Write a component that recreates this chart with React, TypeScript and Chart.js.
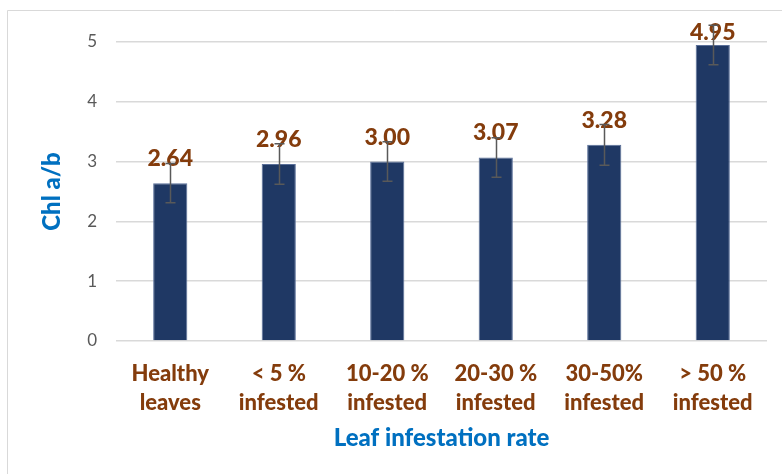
import React, { useEffect, useRef } from "react";
import { Chart, registerables } from "chart.js";

Chart.register(...registerables);

const categories: string[][] = [
  ["Healthy", "leaves"],
  ["< 5 %", "infested"],
  ["10-20 %", "infested"],
  ["20-30 %", "infested"],
  ["30-50%", "infested"],
  ["> 50 %", "infested"],
];
const chlValues: number[] = [2.64, 2.96, 3.0, 3.07, 3.28, 4.95];
const chlErrors: number[] = [0.33, 0.34, 0.33, 0.33, 0.34, 0.33];
const yTicks: number[] = [0, 1, 2, 3, 4, 5];

const FONT = "Lato, 'Open Sans', sans-serif";
const BROWN = "#843C0C";
const BLUE = "#0070C0";

const frame = {
  id: "frame",
  beforeDraw(chart: any) {
    const ctx = chart.ctx;
    ctx.save();
    ctx.fillStyle = "#ffffff";
    ctx.fillRect(0, 0, chart.width, chart.height);
    ctx.strokeStyle = "#d9d9d9";
    ctx.lineWidth = 1;
    ctx.beginPath();
    ctx.moveTo(7.5, chart.height);
    ctx.lineTo(7.5, 10.5);
    ctx.lineTo(chart.width, 10.5);
    ctx.stroke();
    ctx.restore();
  },
};

const errorsAndLabels = {
  id: "errorsAndLabels",
  afterDatasetsDraw(chart: any) {
    const ctx = chart.ctx;
    const meta = chart.getDatasetMeta(0);
    const y = chart.scales.y;
    ctx.save();
    // data labels
    ctx.fillStyle = BROWN;
    ctx.font = `900 23px ${FONT}`;
    ctx.textAlign = "center";
    ctx.textBaseline = "alphabetic";
    meta.data.forEach((bar: any, i: number) => {
      const base = Math.max(bar.y - 17, chart.chartArea.top - 2);
      ctx.fillText(chlValues[i].toFixed(2), bar.x, base);
    });
    // error bars
    ctx.strokeStyle = "#595959";
    ctx.lineWidth = 1.5;
    meta.data.forEach((bar: any, i: number) => {
      const top = y.getPixelForValue(chlValues[i] + chlErrors[i]);
      const bot = y.getPixelForValue(chlValues[i] - chlErrors[i]);
      const x = Math.round(bar.x) + 0.5;
      ctx.beginPath();
      ctx.moveTo(x, top);
      ctx.lineTo(x, bot);
      ctx.moveTo(x - 5, top);
      ctx.lineTo(x + 5, top);
      ctx.moveTo(x - 5, bot);
      ctx.lineTo(x + 5, bot);
      ctx.stroke();
    });
    ctx.restore();
  },
};

export default function App() {
  const ref = useRef<HTMLCanvasElement>(null);
  useEffect(() => {
    if (!ref.current) return;
    const chart = new Chart(ref.current, {
      type: "bar",
      data: {
        labels: categories,
        datasets: [
          {
            data: chlValues,
            backgroundColor: "#1F3864",
            borderColor: "#5a6f99",
            borderWidth: 1,
            barPercentage: 0.315,
            categoryPercentage: 1,
          },
        ],
      },
      options: {
        animation: false,
        responsive: false,
        layout: { padding: { top: 42, right: 15, left: 0, bottom: 0 } },
        plugins: { legend: { display: false }, tooltip: { enabled: false } },
        scales: {
          x: {
            grid: { display: false },
            border: { display: false },
            ticks: {
              color: BROWN,
              font: { family: FONT, size: 22, weight: "900", lineHeight: 1.32 },
              padding: 10,
              maxRotation: 0,
              autoSkip: false,
            },
            title: {
              display: true,
              text: "Leaf infestation rate",
              color: BLUE,
              font: { family: FONT, size: 24, weight: "900", lineHeight: 1.2 },
              padding: { top: 0, bottom: 21 },
            },
            afterFit(scale: any) {
              scale.height = 133;
            },
          },
          y: {
            min: 0,
            max: 5,
            afterBuildTicks(scale: any) {
              scale.ticks = yTicks.map((v) => ({ value: v }));
            },
            grid: { color: "#d9d9d9", lineWidth: 1.5, drawTicks: false },
            border: { display: false },
            ticks: {
              color: "#595959",
              font: { family: FONT, size: 17 },
              padding: 19,
            },
            title: {
              display: true,
              text: "Chl a/b",
              color: BLUE,
              font: { family: FONT, size: 24, weight: "900", lineHeight: 1.2 },
              padding: { top: 38, bottom: 0 },
            },
            afterFit(scale: any) {
              scale.width = 116;
            },
          },
        },
      },
      plugins: [frame, errorsAndLabels],
    });
    return () => chart.destroy();
  }, []);
  return (
    <div style={{ position: "fixed", left: 0, top: 0, width: 782, height: 474, background: "#fff" }}>
      <canvas ref={ref} width={782} height={474} style={{ display: "block" }} />
    </div>
  );
}
